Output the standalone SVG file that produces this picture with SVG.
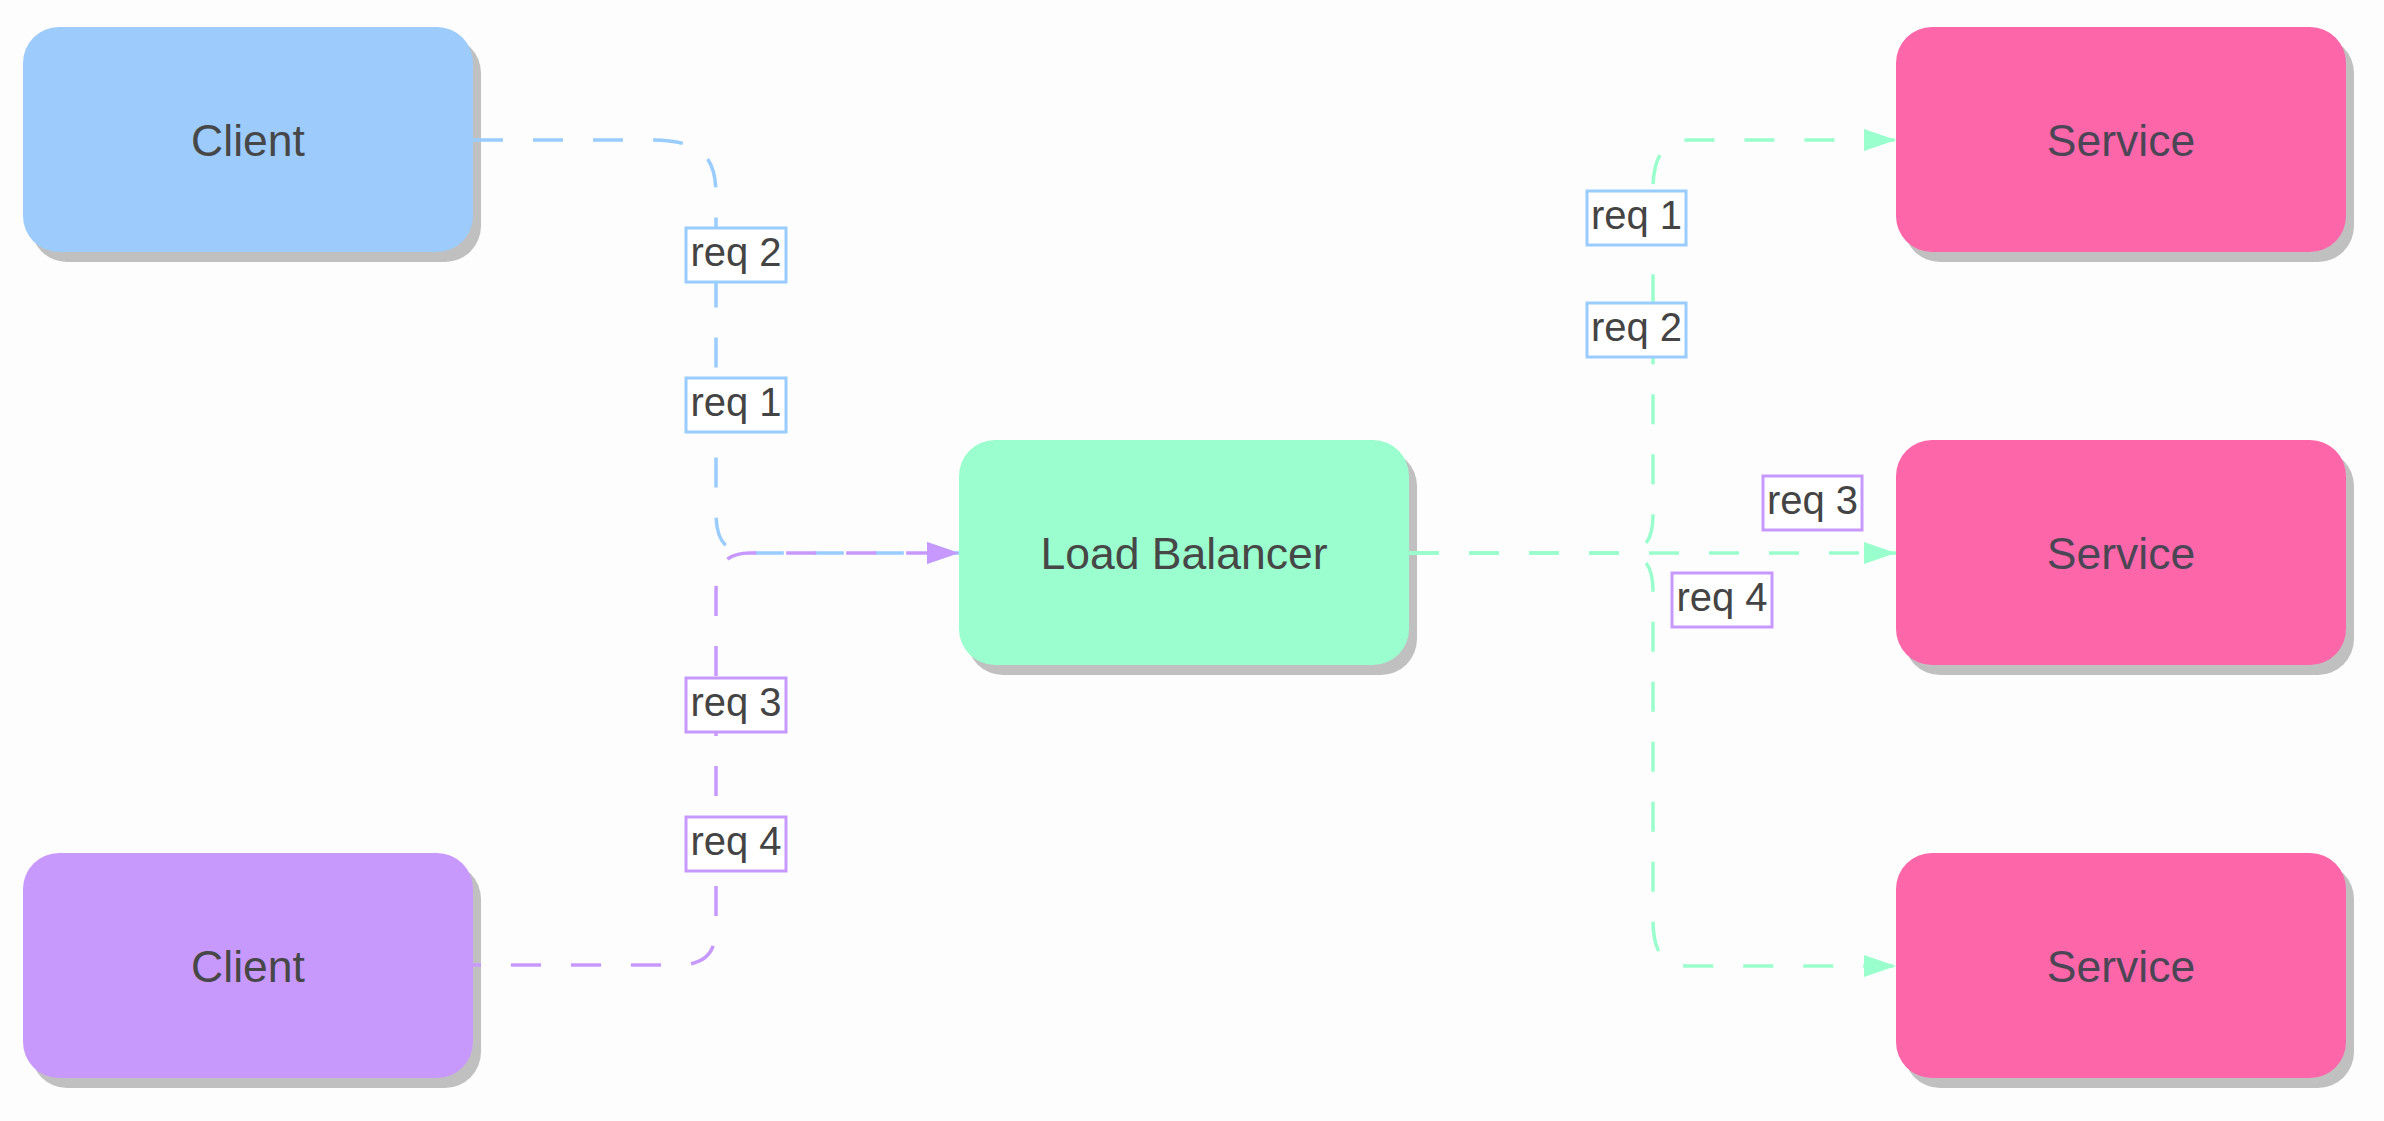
<svg xmlns="http://www.w3.org/2000/svg" width="2384" height="1121" viewBox="0 0 2384 1121">
<style>
.shadow{fill:#c0c0c0}
.ntext{font-family:"Liberation Sans",Arial,sans-serif;font-size:44.5px;fill:#474747;text-anchor:middle}
.conn{fill:none;stroke-width:3.5;stroke-dasharray:30 30}
.lbl rect{fill:#ffffff;stroke-width:3}
.lbl text{font-family:"Liberation Sans",Arial,sans-serif;font-size:40px;fill:#444444;text-anchor:middle}
</style>
<defs>
<marker id="arrP" viewBox="0 0 32 22" refX="32" refY="11" markerWidth="32" markerHeight="22" markerUnits="userSpaceOnUse" orient="auto"><path d="M0,0 L32,11 L0,22 z" fill="#c799ff"/></marker>
<marker id="arrB" viewBox="0 0 32 22" refX="32" refY="11" markerWidth="32" markerHeight="22" markerUnits="userSpaceOnUse" orient="auto"><path d="M0,0 L32,11 L0,22 z" fill="#99ccff"/></marker>
<marker id="arrG" viewBox="0 0 32 22" refX="32" refY="11" markerWidth="32" markerHeight="22" markerUnits="userSpaceOnUse" orient="auto"><path d="M0,0 L32,11 L0,22 z" fill="#99ffcc"/></marker>
</defs>
<rect x="0" y="0" width="2384" height="1121" fill="#fdfdfd"/>

<g id="client1">
<rect class="shadow" x="31" y="37" width="450" height="225" rx="36"/>
<rect x="23" y="27" width="450" height="225" rx="36" fill="#9ccbfc"/>
<text class="ntext" x="248" y="156">Client</text>
</g>
<g id="client2">
<rect class="shadow" x="31" y="863" width="450" height="225" rx="36"/>
<rect x="23" y="853" width="450" height="225" rx="36" fill="#c899fc"/>
<text class="ntext" x="248" y="982">Client</text>
</g>
<g id="loadbalancer">
<rect class="shadow" x="967" y="450" width="450" height="225" rx="36"/>
<rect x="959" y="440" width="450" height="225" rx="36" fill="#9afecf"/>
<text class="ntext" x="1184" y="569">Load Balancer</text>
</g>
<g id="service1">
<rect class="shadow" x="1904" y="37" width="450" height="225" rx="36"/>
<rect x="1896" y="27" width="450" height="225" rx="36" fill="#fe66aa"/>
<text class="ntext" x="2121" y="156" style="fill:#4b4656">Service</text>
</g>
<g id="service2">
<rect class="shadow" x="1904" y="450" width="450" height="225" rx="36"/>
<rect x="1896" y="440" width="450" height="225" rx="36" fill="#fe66aa"/>
<text class="ntext" x="2121" y="569" style="fill:#4b4656">Service</text>
</g>
<g id="service3">
<rect class="shadow" x="1904" y="863" width="450" height="225" rx="36"/>
<rect x="1896" y="853" width="450" height="225" rx="36" fill="#fe66aa"/>
<text class="ntext" x="2121" y="982" style="fill:#4b4656">Service</text>
</g>

<g id="connectors">
<path class="conn" stroke="#99ccff" marker-end="url(#arrB)" d="M473 140 L650 140 C700 140 716 155 716 195 L716 513 C716 540 725 553 750 553 L959 553"/>
<path class="conn" stroke="#c799ff" stroke-dashoffset="22" marker-end="url(#arrP)" d="M473 965 L675 965 C705 965 716 955 716 925 L716 593 C716 566 725 553 750 553 L959 553"/>
<path class="conn" stroke="#99ffcc" marker-end="url(#arrG)" d="M1409 553 L1620 553 C1645 553 1653 540 1653 515 L1653 190 C1653 155 1665 140 1690 140 L1896 140"/>
<path class="conn" stroke="#99ffcc" marker-end="url(#arrG)" d="M1409 553 L1896 553"/>
<path class="conn" stroke="#99ffcc" marker-end="url(#arrG)" d="M1409 553 L1620 553 C1645 553 1653 566 1653 591 L1653 920 C1653 955 1665 966 1690 966 L1896 966"/>

<g class="lbl"><rect x="686" y="228" width="100" height="54" stroke="#99ccff"/><text x="736" y="266">req 2</text></g>
<g class="lbl"><rect x="686" y="378" width="100" height="54" stroke="#99ccff"/><text x="736" y="416">req 1</text></g>
<g class="lbl"><rect x="686" y="678" width="100" height="54" stroke="#c799ff"/><text x="736" y="716">req 3</text></g>
<g class="lbl"><rect x="686" y="817" width="100" height="54" stroke="#c799ff"/><text x="736" y="855">req 4</text></g>
<g class="lbl"><rect x="1587" y="191" width="99" height="54" stroke="#99ccff"/><text x="1636.5" y="229">req 1</text></g>
<g class="lbl"><rect x="1587" y="303" width="99" height="54" stroke="#99ccff"/><text x="1636.5" y="341">req 2</text></g>
<g class="lbl"><rect x="1763" y="476" width="99" height="54" stroke="#c799ff"/><text x="1812.5" y="514">req 3</text></g>
<g class="lbl"><rect x="1672" y="573" width="100" height="54" stroke="#c799ff"/><text x="1722" y="611">req 4</text></g>
</g>
</svg>
